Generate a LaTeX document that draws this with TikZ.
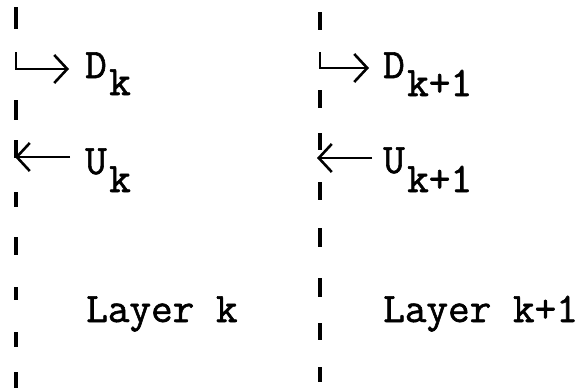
\documentclass[tikz,border=0pt]{standalone}
\usepackage{fontspec}
\newfontfamily\typewriter[FakeBold=1.4]{Latin Modern Mono}
\usetikzlibrary{arrows.meta}
\begin{document}
\begin{tikzpicture}[x=1pt,y=-1pt,
  bound/.style={line width=3.2pt},
  flow/.style={line width=2.6pt,-{Straight Barb[length=13pt,width=28pt,line width=2.6pt]}},
  lbl/.style={inner sep=0pt,anchor=base west,font=\fontsize{42}{50}\typewriter}]
\useasboundingbox (0,0) rectangle (588,388);

% left layer boundary (broken line)
\foreach \a/\b in {7/29,100/120,140/158,192/207,237/255,287/300,332/347,372/388}
  \draw[bound] (16,\a) -- (16,\b);
% right layer boundary
\foreach \a/\b in {12/30,90/108,133/150,182/200,228/247,278/297,323/340,367/382}
  \draw[bound] (320,\a) -- (320,\b);

% labels
\node[lbl] (dk)   at (85,78)  {D};
\node[lbl] (dks)  at (109,95) {k};
\node[lbl] (uk)   at (85,174) {U};
\node[lbl] (uks)  at (109,192) {k};
\node[lbl] (dk1)  at (383,78) {D};
\node[lbl] (dk1s) at (407,96) {k+1};
\node[lbl] (uk1)  at (383,173) {U};
\node[lbl] (uk1s) at (407,192) {k+1};
\node[lbl] (lk)   at (86,322) {Layer k};
\node[lbl] (lk1)  at (383,322) {Layer k+1};

% arrow end points
\coordinate (dsrc)  at (16,52);
\coordinate (dend)  at (69,69);
\coordinate (usrc)  at (70,157);
\coordinate (uend)  at (15,157);
\coordinate (d1src) at (320,52);
\coordinate (d1end) at (369,68);
\coordinate (u1src) at (372,158);
\coordinate (u1end) at (317,158);

% downward quantities leave the boundary, upward ones arrive at it
\draw[flow] (dsrc) |- (dend);
\draw[flow] (usrc) -- (uend);
\draw[flow] (d1src) |- (d1end);
\draw[flow] (u1src) -- (u1end);
\end{tikzpicture}
\end{document}
